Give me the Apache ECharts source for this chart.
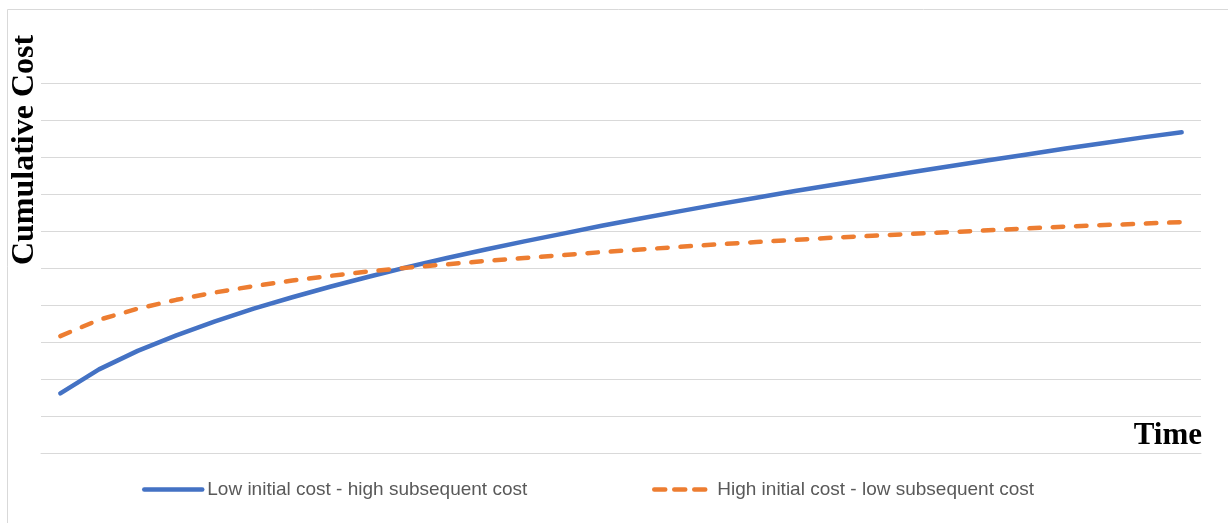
<!DOCTYPE html>
<html>
<head>
<meta charset="utf-8">
<title>Cumulative Cost over Time</title>
<script src="https://cdn.jsdelivr.net/npm/echarts@6/dist/echarts.min.js"></script>
<style>
  html, body { margin: 0; padding: 0; background: #fff; }
  #chart { width: 1228px; height: 523px; }
</style>
</head>
<body>
<div id="chart"></div>
<script>
// Time periods along the horizontal axis
const periods = [1, 2, 3, 4, 5, 6, 7, 8, 9, 10, 11, 12, 13, 14, 15,
                 16, 17, 18, 19, 20, 21, 22, 23, 24, 25, 26, 27, 28, 29, 30];

// Cumulative cost of each option per period
const lowInitialCost = [1.61, 2.26, 2.76, 3.18, 3.56, 3.90, 4.21, 4.50, 4.77, 5.03,
                        5.27, 5.50, 5.72, 5.93, 6.14, 6.34, 6.53, 6.72, 6.90, 7.08,
                        7.25, 7.42, 7.59, 7.75, 7.91, 8.07, 8.23, 8.38, 8.53, 8.67];
const highInitialCost = [3.16, 3.60, 3.90, 4.14, 4.34, 4.51, 4.66, 4.79, 4.91, 5.01,
                         5.10, 5.19, 5.27, 5.35, 5.43, 5.50, 5.57, 5.64, 5.70, 5.76,
                         5.82, 5.87, 5.92, 5.97, 6.02, 6.07, 6.12, 6.16, 6.20, 6.24];

const seriesNames = ['Low initial cost - high subsequent cost',
                     'High initial cost - low subsequent cost'];

const chart = echarts.init(document.getElementById('chart'), null, { renderer: 'canvas' });

const legendText = { color: '#595959', fontSize: 19, fontFamily: 'Liberation Sans, Arial, sans-serif' };

// Shared legend look: a thick line sample without the point marker
const legendBase = {
  top: 480,
  padding: 0,
  itemWidth: 58,
  itemHeight: 14,
  itemGap: 0,
  textStyle: legendText,
  itemStyle: { opacity: 0 }
};

chart.setOption({
  animation: false,
  backgroundColor: '#ffffff',
  grid: { left: 41, right: 27, top: 83, bottom: 70 },
  graphic: [
    {
      type: 'rect',
      shape: { x: 7.5, y: 9.5, width: 1400, height: 700 },
      style: { fill: 'none', stroke: '#d9d9d9', lineWidth: 1 },
      silent: true
    },
    {
      type: 'text',
      x: 25,
      y: 150,
      rotation: Math.PI / 2,
      style: {
        text: 'Cumulative Cost',
        fill: '#000',
        font: 'bold 32px "Liberation Serif", "Times New Roman", serif',
        textAlign: 'center',
        textVerticalAlign: 'middle'
      }
    }
  ],
  legend: [
    Object.assign({
      data: [seriesNames[0]],
      left: 142,
      lineStyle: { width: 4.5, cap: 'round' }
    }, legendBase),
    Object.assign({
      data: [seriesNames[1]],
      left: 652,
      lineStyle: { width: 4.5, cap: 'round', type: [11, 9] }
    }, legendBase)
  ],
  xAxis: {
    type: 'category',
    data: periods,
    boundaryGap: true,
    name: 'Time',
    nameLocation: 'end',
    nameGap: 1,
    nameTextStyle: {
      color: '#000',
      fontSize: 31,
      fontWeight: 'bold',
      fontFamily: '"Liberation Serif", "Times New Roman", serif',
      align: 'right',
      verticalAlign: 'bottom',
      padding: [0, 0, 2, 0]
    },
    axisLine: { show: true, lineStyle: { color: '#d9d9d9', width: 1 } },
    axisTick: { show: false },
    axisLabel: { show: false },
    splitLine: { show: false }
  },
  yAxis: {
    type: 'value',
    min: 0,
    max: 10,
    interval: 1,
    axisLine: { show: false },
    axisTick: { show: false },
    axisLabel: { show: false },
    splitLine: { show: true, lineStyle: { color: '#d9d9d9', width: 1 } }
  },
  series: [
    {
      name: seriesNames[0],
      type: 'line',
      data: lowInitialCost,
      symbol: 'none',
      smooth: false,
      lineStyle: { color: '#4472C4', width: 4.5, cap: 'round', join: 'round' },
      itemStyle: { color: '#4472C4' }
    },
    {
      name: seriesNames[1],
      type: 'line',
      data: highInitialCost,
      symbol: 'none',
      smooth: false,
      lineStyle: { color: '#ED7D31', width: 4.5, type: [10.5, 12.8], cap: 'round', join: 'round' },
      itemStyle: { color: '#ED7D31' }
    }
  ]
});
</script>
</body>
</html>
